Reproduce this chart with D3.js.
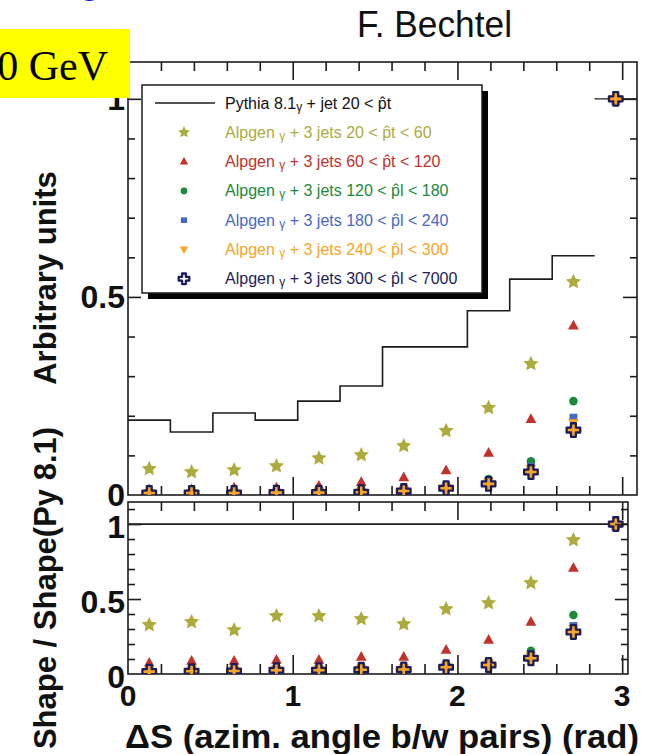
<!DOCTYPE html>
<html>
<head>
<meta charset="utf-8">
<script src="https://cdn.jsdelivr.net/npm/d3@7"></script>
<style>
  html, body { margin: 0; padding: 0; background: #ffffff; }
  svg { display: block; }
  text { font-family: "Liberation Sans", Arial, Helvetica, sans-serif; }
  text.serif { font-family: "Liberation Serif", "Times New Roman", serif; }
</style>
</head>
<body>
<script>
// ---- data -------------------------------------------------------------
// Delta-phi bin centres (rad) and common bin width
const binCenters = [0.129, 0.386, 0.644, 0.901, 1.159, 1.416, 1.674, 1.931, 2.189, 2.446, 2.704, 2.961];
const binWidth = 0.2575;

// Top panel: normalised shapes (arbitrary units)
const pythiaShape   = [0.189, 0.159, 0.207, 0.189, 0.237, 0.275, 0.374, 0.374, 0.465, 0.545, 0.604, 1.0];
const alpgen20_60   = [0.066, 0.058, 0.063, 0.073, 0.093, 0.101, 0.124, 0.162, 0.220, 0.331, 0.538, 1.0];
const alpgen60_120  = [0.014, 0.014, 0.018, 0.018, 0.023, 0.032, 0.044, 0.062, 0.106, 0.191, 0.427, 1.0];
const alpgen120_180 = [0.007, 0.006, 0.007, 0.008, 0.009, 0.012, 0.019, 0.025, 0.040, 0.085, 0.237, 1.0];
const alpgen180_240 = [0.006, 0.005, 0.006, 0.007, 0.008, 0.010, 0.015, 0.021, 0.035, 0.072, 0.196, 1.0];
const alpgen240_300 = [0.005, 0.005, 0.006, 0.006, 0.007, 0.009, 0.013, 0.019, 0.032, 0.066, 0.182, 1.0];
const alpgen300_7000 = [0.005, 0.005, 0.005, 0.006, 0.006, 0.007, 0.010, 0.017, 0.028, 0.058, 0.164, 1.0];

// Bottom panel: shape ratios to Pythia 8.1
const pythiaRatio    = [1, 1, 1, 1, 1, 1, 1, 1, 1, 1, 1, 1];
const ratio20_60     = [0.327, 0.347, 0.293, 0.387, 0.387, 0.367, 0.333, 0.433, 0.473, 0.607, 0.893, 1.0];
const ratio60_120    = [0.073, 0.087, 0.087, 0.093, 0.093, 0.113, 0.113, 0.160, 0.227, 0.347, 0.707, 1.0];
const ratio120_180   = [0.035, 0.035, 0.035, 0.040, 0.040, 0.045, 0.050, 0.065, 0.085, 0.155, 0.393, 1.0];
const ratio180_240   = [0.030, 0.030, 0.030, 0.035, 0.035, 0.038, 0.042, 0.057, 0.076, 0.132, 0.322, 1.0];
const ratio240_300   = [0.028, 0.030, 0.028, 0.032, 0.032, 0.035, 0.038, 0.052, 0.070, 0.122, 0.302, 1.0];
const ratio300_7000  = [0.016, 0.018, 0.020, 0.025, 0.025, 0.028, 0.030, 0.045, 0.060, 0.105, 0.280, 1.0];

// Axis ticks and labels
const xMajor = [0, 1, 2, 3];
const xTickLabels = ["0", "1", "2", "3"];
const xMinor = [0.2, 0.4, 0.6, 0.8, 1.2, 1.4, 1.6, 1.8, 2.2, 2.4, 2.6, 2.8];
const yTopMajor = [0.5, 1.0];
const yTopLabels = ["0", "0.5", "1"];
const yTopLabelValues = [0, 0.5, 1];
const yTopMinor = [0.1, 0.2, 0.3, 0.4, 0.6, 0.7, 0.8, 0.9];
const yBotMajor = [0.5, 1.0];
const yBotLabels = ["0", "0.5", "1"];
const yBotLabelValues = [0, 0.5, 1];
const yBotMinor = [0.1, 0.2, 0.3, 0.4, 0.6, 0.7, 0.8, 0.9, 1.1];

// Samples: legend text, colour, marker
const series = [
  { label: "Alpgen γ + 3 jets 20 < p\u0302t < 60",    color: "#adab3e", marker: "star",  top: alpgen20_60,   ratio: ratio20_60 },
  { label: "Alpgen γ + 3 jets 60 < p\u0302t < 120",   color: "#c3312b", marker: "tri",   top: alpgen60_120,  ratio: ratio60_120 },
  { label: "Alpgen γ + 3 jets 120 < p\u0302l < 180",  color: "#1c8a3c", marker: "dot",   top: alpgen120_180, ratio: ratio120_180 },
  { label: "Alpgen γ + 3 jets 180 < p\u0302l < 240",  color: "#4669c6", marker: "sq",    top: alpgen180_240, ratio: ratio180_240 },
  { label: "Alpgen γ + 3 jets 240 < p\u0302l < 300",  color: "#f6a527", marker: "tridn", top: alpgen240_300, ratio: ratio240_300 },
  { label: "Alpgen γ + 3 jets 300 < p\u0302l < 7000", color: "#1c1d5c", marker: "cross", top: alpgen300_7000, ratio: ratio300_7000 }
];
const pythiaLabel = "Pythia 8.1γ + jet 20 < p\u0302t";
const crossFill = "#f6a527";

// ---- layout -----------------------------------------------------------
const W = 659, H = 754;
const ink = "#1c1c1c";
const svg = d3.select("body").append("svg").attr("width", W).attr("height", H);

const x = d3.scaleLinear().domain([0, 3.09]).range([128, 637]);
const xBotMax = 3.035;
const yTop = d3.scaleLinear().domain([0, 1.093]).range([495, 62]);
const yBot = d3.scaleLinear().domain([0, 1.147]).range([674, 502]);

// ---- marker shapes (size = radius in px) ------------------------------
const shapes = {
  star: { draw(c, r) {
    for (let i = 0; i < 10; i++) {
      const a = -Math.PI / 2 + i * Math.PI / 5, rr = i % 2 ? r * 0.48 : r;
      i ? c.lineTo(rr * Math.cos(a), rr * Math.sin(a)) : c.moveTo(rr * Math.cos(a), rr * Math.sin(a));
    }
    c.closePath();
  }},
  tri: { draw(c, r) {
    c.moveTo(0, -r); c.lineTo(r * 0.9, r * 0.62); c.lineTo(-r * 0.9, r * 0.62); c.closePath();
  }},
  tridn: { draw(c, r) {
    c.moveTo(0, r); c.lineTo(r * 0.9, -r * 0.62); c.lineTo(-r * 0.9, -r * 0.62); c.closePath();
  }},
  dot: { draw(c, r) { c.moveTo(r, 0); c.arc(0, 0, r, 0, 2 * Math.PI); } },
  sq: { draw(c, r) { c.rect(-r, -r * 0.9, 2 * r, 1.8 * r); } },
  cross: { draw(c, r) {
    const a = r * 0.36;
    c.moveTo(-a, -r); c.lineTo(a, -r); c.lineTo(a, -a); c.lineTo(r, -a); c.lineTo(r, a);
    c.lineTo(a, a); c.lineTo(a, r); c.lineTo(-a, r); c.lineTo(-a, a); c.lineTo(-r, a);
    c.lineTo(-r, -a); c.lineTo(-a, -a); c.closePath();
  }}
};
const markerRadius = { star: 8, tri: 6, tridn: 6, dot: 4.3, sq: 4, cross: 6.8 };

function markerPath(type, scale) {
  return d3.symbol().type(shapes[type]).size(markerRadius[type] * scale)();
}
function styleMarker(sel, s, fillCross) {
  if (s.marker === "cross") {
    sel.attr("fill", fillCross).attr("stroke", s.color).attr("stroke-width", 2.3).attr("stroke-linejoin", "round");
  } else {
    sel.attr("fill", s.color).attr("stroke", "none");
  }
}

// ---- clip regions -----------------------------------------------------
const defs = svg.append("defs");
defs.append("clipPath").attr("id", "clipTop").append("rect")
  .attr("x", x(0)).attr("y", yTop(1.093)).attr("width", x(3.09) - x(0)).attr("height", yTop(0) - yTop(1.093));
defs.append("clipPath").attr("id", "clipBot").append("rect")
  .attr("x", x(0)).attr("y", yBot(1.147)).attr("width", x(xBotMax) - x(0)).attr("height", yBot(0) - yBot(1.147));

// ---- tick helpers -----------------------------------------------------
function tickRow(axisFn, scale, values, size, tx, ty) {
  const g = svg.append("g").attr("transform", `translate(${tx},${ty})`)
    .call(axisFn(scale).tickValues(values).tickSize(size).tickFormat(""));
  g.select(".domain").remove();
  g.selectAll(".tick line").attr("stroke", ink).attr("stroke-width", 1.6);
}

// ---- top panel --------------------------------------------------------
const topPanel = svg.append("g");
topPanel.append("rect")
  .attr("x", x(0)).attr("y", yTop(1.093)).attr("width", x(3.09) - x(0)).attr("height", yTop(0) - yTop(1.093))
  .attr("fill", "none").attr("stroke", ink).attr("stroke-width", 1.6);

tickRow(d3.axisBottom, x, xMinor, 9, 0, yTop(1.093));
tickRow(d3.axisBottom, x, xMajor.slice(1), 18, 0, yTop(1.093));
tickRow(d3.axisTop, x, xMinor, 9, 0, yTop(0));
tickRow(d3.axisTop, x, xMajor.slice(1), 18, 0, yTop(0));
tickRow(d3.axisRight, yTop, yTopMinor, 7, x(0), 0);
tickRow(d3.axisRight, yTop, yTopMajor, 13, x(0), 0);
tickRow(d3.axisLeft, yTop, yTopMinor, 7, x(3.09), 0);
tickRow(d3.axisLeft, yTop, yTopMajor, 14, x(3.09), 0);

const topPlot = topPanel.append("g").attr("clip-path", "url(#clipTop)");

// Pythia histogram: connected steps for the first eleven bins, last bin on its own
const stepPts = binCenters.slice(0, 11).map((c, i) => [c - binWidth / 2, pythiaShape[i]]);
stepPts.push([binCenters[10] + binWidth / 2, pythiaShape[10]]);
const stepLine = d3.line().x(d => x(d[0])).y(d => yTop(d[1])).curve(d3.curveStepAfter);
topPlot.append("path").attr("d", stepLine(stepPts))
  .attr("fill", "none").attr("stroke", ink).attr("stroke-width", 1.6);
topPlot.append("path").attr("d", stepLine([
    [binCenters[11] - binWidth / 2, pythiaShape[11]],
    [binCenters[11] + binWidth / 2, pythiaShape[11]]]))
  .attr("fill", "none").attr("stroke", ink).attr("stroke-width", 1.4);

series.forEach(s => {
  topPlot.append("g").selectAll("path").data(s.top).join("path")
    .attr("transform", (d, i) => `translate(${x(binCenters[i])},${yTop(d)})`)
    .attr("d", markerPath(s.marker, 1))
    .call(sel => styleMarker(sel, s, crossFill));
});

// ---- bottom panel -----------------------------------------------------
const botPanel = svg.append("g");
botPanel.append("rect")
  .attr("x", x(0)).attr("y", yBot(1.147)).attr("width", x(xBotMax) - x(0)).attr("height", yBot(0) - yBot(1.147))
  .attr("fill", "none").attr("stroke", ink).attr("stroke-width", 1.6);

tickRow(d3.axisBottom, x, xMinor, 9, 0, yBot(1.147));
tickRow(d3.axisBottom, x, xMajor.slice(1), 18, 0, yBot(1.147));
tickRow(d3.axisTop, x, xMinor, 10, 0, yBot(0));
tickRow(d3.axisTop, x, xMajor.slice(1), 19, 0, yBot(0));
tickRow(d3.axisRight, yBot, yBotMinor, 7, x(0), 0);
tickRow(d3.axisRight, yBot, yBotMajor, 13, x(0), 0);
tickRow(d3.axisLeft, yBot, yBotMinor, 7, x(xBotMax), 0);
tickRow(d3.axisLeft, yBot, yBotMajor, 13, x(xBotMax), 0);

const botPlot = botPanel.append("g").attr("clip-path", "url(#clipBot)");
const ratioPts = binCenters.map((c, i) => [c - binWidth / 2, pythiaRatio[i]]);
ratioPts.push([binCenters[11] + binWidth / 2, pythiaRatio[11]]);
const ratioLine = d3.line().x(d => x(d[0])).y(d => yBot(d[1])).curve(d3.curveStepAfter);
botPlot.append("path").attr("d", ratioLine(ratioPts))
  .attr("fill", "none").attr("stroke", ink).attr("stroke-width", 1.8);

series.forEach(s => {
  botPlot.append("g").selectAll("path").data(s.ratio).join("path")
    .attr("transform", (d, i) => `translate(${x(binCenters[i])},${yBot(d)})`)
    .attr("d", markerPath(s.marker, 1))
    .call(sel => styleMarker(sel, s, crossFill));
});

// ---- axis labels ------------------------------------------------------
const lab = svg.append("g").attr("fill", "#111").attr("font-weight", "bold");
yTopLabelValues.forEach((v, i) => {
  lab.append("text").attr("x", 125).attr("y", yTop(v) + 11).attr("text-anchor", "end")
    .attr("font-size", 32).text(yTopLabels[i]);
});
yBotLabelValues.forEach((v, i) => {
  lab.append("text").attr("x", 125).attr("y", yBot(v) + 14).attr("text-anchor", "end")
    .attr("font-size", 32).text(yBotLabels[i]);
});
xMajor.forEach((v, i) => {
  lab.append("text").attr("x", x(v)).attr("y", 706).attr("text-anchor", "middle")
    .attr("font-size", 30).text(xTickLabels[i]);
});
lab.append("text").attr("x", 125).attr("y", 748).attr("font-size", 33)
  .attr("textLength", 514).attr("lengthAdjust", "spacingAndGlyphs")
  .text("ΔS (azim. angle b/w pairs) (rad)");
lab.append("text").attr("transform", "translate(56,278) rotate(-90)").attr("text-anchor", "middle")
  .attr("font-size", 31).text("Arbitrary units");
lab.append("text").attr("transform", "translate(56,588) rotate(-90)").attr("text-anchor", "middle")
  .attr("font-size", 31).text("Shape / Shape(Py 8.1)");

// ---- legend -----------------------------------------------------------
const leg = svg.append("g");
leg.append("rect").attr("x", 148).attr("y", 91).attr("width", 340).attr("height", 208).attr("fill", "#000");
leg.append("rect").attr("x", 142).attr("y", 85).attr("width", 340).attr("height", 208)
  .attr("fill", "#fff").attr("stroke", ink).attr("stroke-width", 1.5);

const rowY = i => 103 + i * 29.3;
function richLabel(sel, str) {
  const parts = str.split("γ");
  parts.forEach((p, k) => {
    if (k > 0) {
      sel.append("tspan").attr("font-size", 12).attr("dy", 2).text("γ");
      sel.append("tspan").attr("dy", -2).text(p);
    } else {
      sel.append("tspan").text(p);
    }
  });
}
leg.append("line").attr("x1", 155).attr("x2", 215).attr("y1", rowY(0)).attr("y2", rowY(0))
  .attr("stroke", ink).attr("stroke-width", 1.6);
richLabel(leg.append("text").attr("x", 225).attr("y", rowY(0) + 5.5).attr("font-size", 16)
  .attr("fill", "#111"), pythiaLabel);

series.forEach((s, i) => {
  const yy = rowY(i + 1);
  leg.append("path").attr("transform", `translate(184,${yy})`)
    .attr("d", markerPath(s.marker, 0.78))
    .call(sel => styleMarker(sel, s, "#fff"));
  richLabel(leg.append("text").attr("x", 225).attr("y", yy + 5.5).attr("font-size", 16)
    .attr("fill", s.color), s.label);
});

// ---- page annotations -------------------------------------------------
svg.append("text").attr("x", 357).attr("y", 37).attr("font-size", 36).attr("fill", "#111")
  .attr("textLength", 155).attr("lengthAdjust", "spacingAndGlyphs").text("F. Bechtel");

svg.append("text").attr("x", 78).attr("y", -7).attr("font-size", 38).attr("font-weight", "bold")
  .attr("fill", "#1414e6").text("g");

svg.append("rect").attr("x", 0).attr("y", 29).attr("width", 130).attr("height", 69).attr("fill", "#ffff00");
svg.append("text").attr("class", "serif").attr("x", 108).attr("y", 80).attr("text-anchor", "end")
  .attr("font-size", 42).attr("fill", "#000").text("0 GeV");
</script>
</body>
</html>
